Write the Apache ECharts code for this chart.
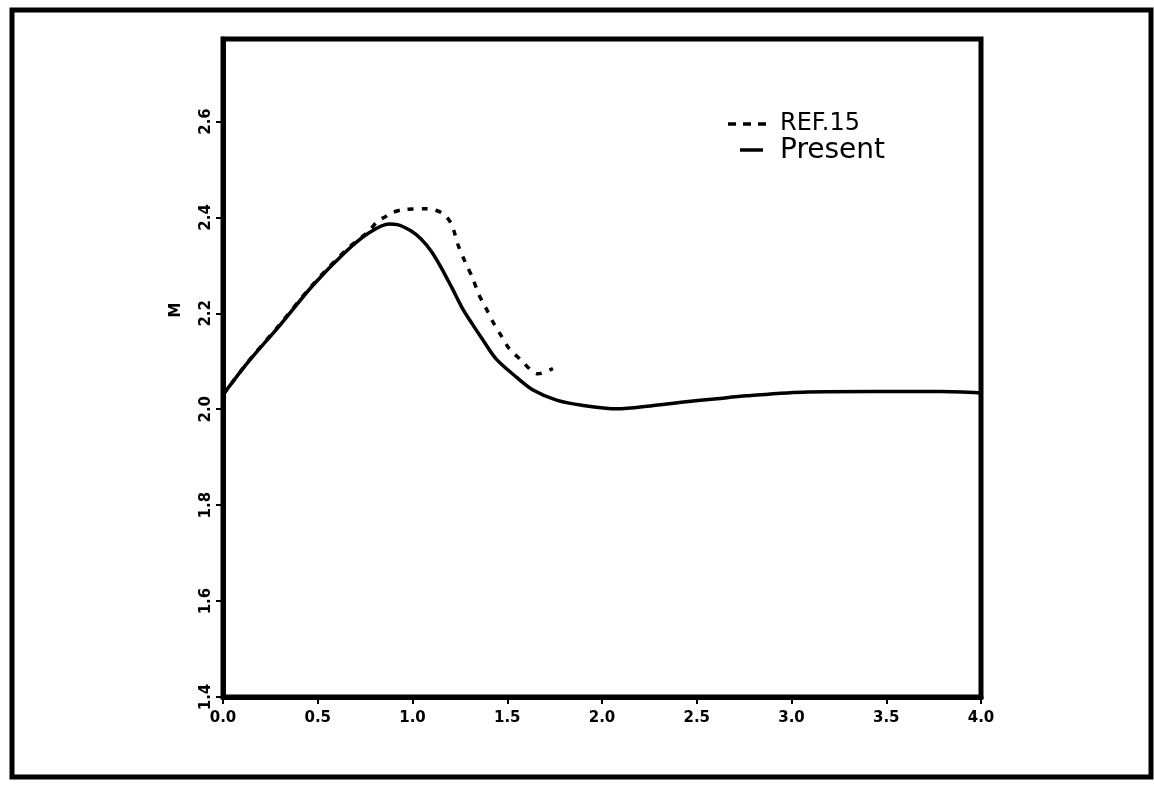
<!DOCTYPE html>
<html>
<head>
<meta charset="utf-8">
<title>M vs x</title>
<script src="https://cdn.jsdelivr.net/npm/echarts@6/dist/echarts.min.js"></script>
<style>
  html, body { margin: 0; padding: 0; background: #fff; }
  #chart { width: 1154px; height: 789px; }
</style>
</head>
<body>
<div id="chart"></div>
<script>
// Axis ticks
const xTicks = [0.0, 0.5, 1.0, 1.5, 2.0, 2.5, 3.0, 3.5, 4.0];
const yTicks = [1.4, 1.6, 1.8, 2.0, 2.2, 2.4, 2.6];

// Present computation
const presentX = [0, 0.13, 0.30, 0.476, 0.649, 0.771, 0.878, 0.92, 0.991, 1.045, 1.098, 1.152, 1.207, 1.261, 1.315, 1.369, 1.441, 1.548, 1.636, 1.76, 1.901, 2.08, 2.255, 2.431, 2.607, 2.765, 3.082, 3.433, 3.786, 4.0];
const presentM = [2.03, 2.097, 2.175, 2.259, 2.329, 2.368, 2.386, 2.385, 2.372, 2.355, 2.33, 2.295, 2.254, 2.212, 2.178, 2.146, 2.105, 2.067, 2.04, 2.019, 2.008, 2.001, 2.007, 2.015, 2.022, 2.028, 2.036, 2.037, 2.037, 2.034];

// Ref. 15
const refX = [0, 0.13, 0.30, 0.476, 0.649, 0.771, 0.815, 0.859, 0.885, 0.964, 1.078, 1.157, 1.202, 1.22, 1.239, 1.279, 1.316, 1.349, 1.385, 1.43, 1.467, 1.511, 1.574, 1.627, 1.662, 1.741];
const refM = [2.03, 2.098, 2.177, 2.261, 2.332, 2.372, 2.392, 2.402, 2.409, 2.417, 2.418, 2.409, 2.389, 2.37, 2.344, 2.306, 2.275, 2.24, 2.213, 2.178, 2.154, 2.126, 2.102, 2.081, 2.074, 2.085];

// Legend entries
const legendNames = ['REF.15', 'Present'];

const pairs = (xs, ys) => xs.map((x, i) => [x, ys[i]]);
const labelFont = { fontFamily: 'DejaVu Sans', fontWeight: 'bold', fontSize: 15, color: '#000' };
const dashPattern = [6, 8];

const chart = echarts.init(document.getElementById('chart'), null, { renderer: 'canvas' });
chart.setOption({
  backgroundColor: '#fff',
  animation: false,
  grid: {
    left: 223, right: 173, top: 39, bottom: 92,
    show: true, borderColor: '#000', borderWidth: 5, backgroundColor: 'transparent'
  },
  xAxis: {
    type: 'value', min: 0, max: 4, interval: 0.5,
    axisLine: { show: true, lineStyle: { color: '#000', width: 5 } },
    axisTick: { show: true, length: 7, lineStyle: { color: '#000', width: 2 } },
    axisLabel: Object.assign({ margin: 14, formatter: v => v.toFixed(1) }, labelFont),
    splitLine: { show: false }
  },
  yAxis: {
    type: 'value', min: 1.4, max: 2.772, interval: 0.2,
    axisLine: { show: true, lineStyle: { color: '#000', width: 5 } },
    axisTick: { show: true, length: 7, customValues: yTicks, lineStyle: { color: '#000', width: 2 } },
    axisLabel: Object.assign({ margin: 9, rotate: 90, customValues: yTicks, formatter: v => v.toFixed(1) }, labelFont),
    splitLine: { show: false }
  },
  graphic: [
    {
      type: 'rect', silent: true,
      shape: { x: 12, y: 10, width: 1139, height: 767 },
      style: { fill: 'none', stroke: '#000', lineWidth: 5 }
    },
    {
      type: 'text', silent: true,
      x: 176, y: 310, rotation: Math.PI / 2,
      style: { text: 'M', font: 'bold 15px "DejaVu Sans"', fill: '#000', align: 'center', verticalAlign: 'middle' }
    },
    // legend: dashed key
    {
      type: 'line', silent: true,
      shape: { x1: 728, y1: 124, x2: 768, y2: 124 },
      style: { stroke: '#000', lineWidth: 3.5, lineDash: [8, 7] }
    },
    {
      type: 'text', silent: true, x: 780, y: 124,
      style: { text: legendNames[0], font: '24px "DejaVu Sans"', fill: '#000', verticalAlign: 'middle' }
    },
    // legend: solid key
    {
      type: 'line', silent: true,
      shape: { x1: 740, y1: 150, x2: 763, y2: 150 },
      style: { stroke: '#000', lineWidth: 3.5 }
    },
    {
      type: 'text', silent: true, x: 780, y: 151,
      style: { text: legendNames[1], font: '28px "DejaVu Sans"', fill: '#000', verticalAlign: 'middle' }
    }
  ],
  series: [
    {
      name: legendNames[0], type: 'line', data: pairs(refX, refM),
      showSymbol: false, symbol: 'none', smooth: 0.3,
      lineStyle: { color: '#000', width: 3.5, type: dashPattern },
      z: 3
    },
    {
      name: legendNames[1], type: 'line', data: pairs(presentX, presentM),
      showSymbol: false, symbol: 'none', smooth: 0.3,
      lineStyle: { color: '#000', width: 3.5 },
      z: 4
    }
  ]
});
</script>
</body>
</html>
